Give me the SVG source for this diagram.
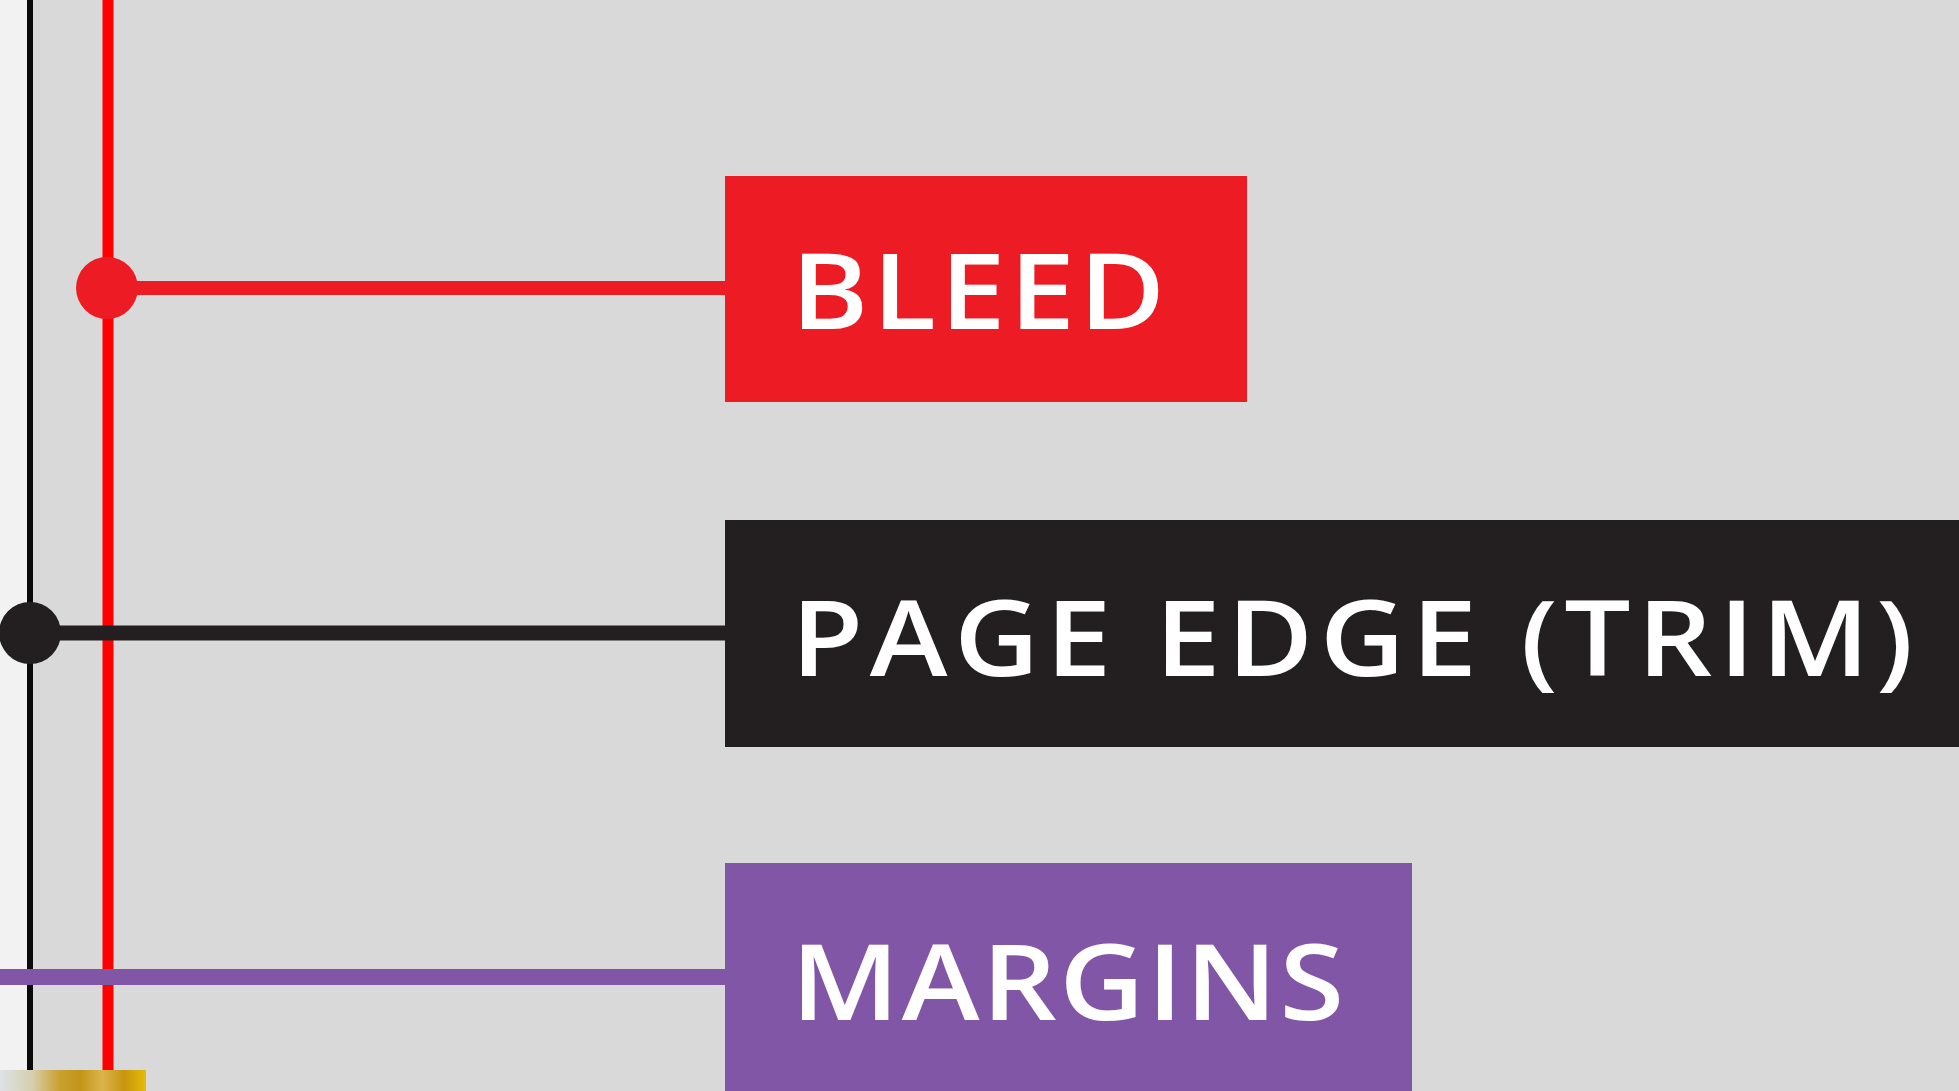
<svg xmlns="http://www.w3.org/2000/svg" width="1959" height="1091" viewBox="0 0 1959 1091">
  <style>
    .lbl { font-family: "Open Sans", "Noto Sans", "Liberation Sans", sans-serif; font-weight: 600; font-size: 105px; fill: #ffffff; }
    .conn { fill: none; }
  </style>
  <defs>
    <linearGradient id="gold" x1="0" y1="0" x2="1" y2="0">
      <stop offset="0" stop-color="#dde2e5"/>
      <stop offset="0.22" stop-color="#d6cfb0"/>
      <stop offset="0.4" stop-color="#c9a232"/>
      <stop offset="0.55" stop-color="#c39418"/>
      <stop offset="0.7" stop-color="#dcb44c"/>
      <stop offset="0.85" stop-color="#c8950f"/>
      <stop offset="1" stop-color="#e5bb08"/>
    </linearGradient>
  </defs>
  <rect x="0" y="0" width="1959" height="1091" fill="#d9d9d9"/>
  <rect x="0" y="0" width="27" height="1091" fill="#f2f2f2"/>
  <g id="connectors">
    <line class="conn" x1="30" y1="0" x2="30" y2="1091" stroke="#0a0a0a" stroke-width="6"/>
    <line class="conn" x1="108" y1="0" x2="108" y2="1091" stroke="#ff0000" stroke-width="11"/>
    <line class="conn" x1="108" y1="288" x2="726" y2="288" stroke="#ed1c24" stroke-width="14"/>
    <line class="conn" x1="30" y1="633" x2="726" y2="633" stroke="#231f20" stroke-width="15"/>
    <line class="conn" x1="0" y1="977" x2="726" y2="977" stroke="#8156a6" stroke-width="16"/>
    <circle cx="107" cy="288" r="31" fill="#ed1c24"/>
    <circle cx="30" cy="633" r="31" fill="#231f20"/>
  </g>
  <g id="node-bleed">
    <rect x="725" y="176" width="522" height="226" fill="#ed1c24"/>
    <text class="lbl" transform="translate(791,329) scale(1.12,1)" x="0" y="0" textLength="334" lengthAdjust="spacing">BLEED</text>
  </g>
  <g id="node-trim">
    <rect x="725" y="520" width="1234" height="227" fill="#231f20"/>
    <text class="lbl" transform="translate(791,676) scale(1.12,1)" x="0" y="0" textLength="1002" lengthAdjust="spacing">PAGE EDGE (TRIM)</text>
  </g>
  <g id="node-margins">
    <rect x="725" y="863" width="687" height="228" fill="#8156a6"/>
    <text class="lbl" transform="translate(791,1020) scale(1.12,1)" x="0" y="0" textLength="494" lengthAdjust="spacing">MARGINS</text>
  </g>
  <rect x="0" y="1070" width="146" height="21" fill="url(#gold)"/>
</svg>
